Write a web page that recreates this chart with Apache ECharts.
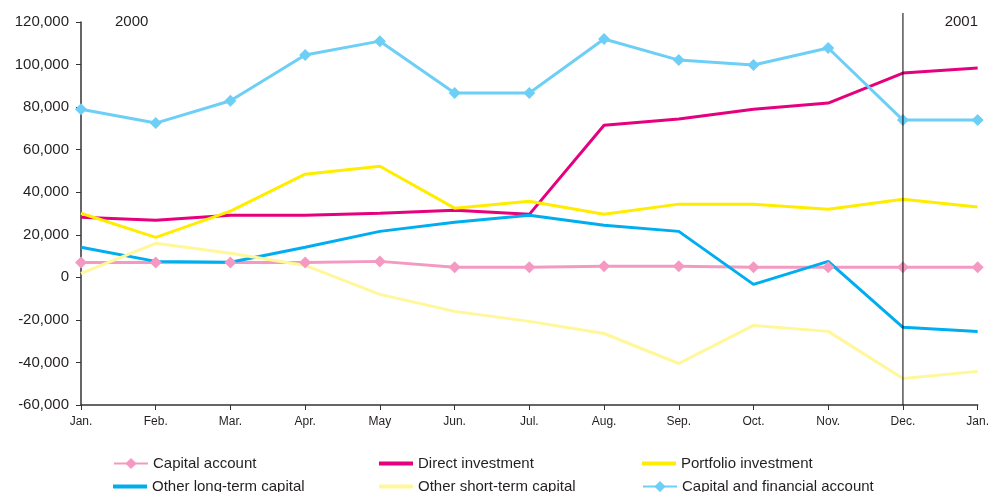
<!DOCTYPE html>
<html>
<head>
<meta charset="utf-8">
<script src="https://cdn.jsdelivr.net/npm/echarts@6/dist/echarts.min.js"></script>
<style>
  html, body { margin: 0; padding: 0; background: #fff; }
  #chart { width: 992px; height: 492px; }
</style>
</head>
<body>
<div id="chart"></div>
<script>
// Monthly capital flows, Jan. 2000 – Jan. 2001
const months = ['Jan.', 'Feb.', 'Mar.', 'Apr.', 'May', 'Jun.', 'Jul.', 'Aug.', 'Sep.', 'Oct.', 'Nov.', 'Dec.', 'Jan.'];

const capitalAccount     = [7000, 7000, 7000, 7000, 7500, 4700, 4700, 5200, 5200, 4700, 4700, 4700, 4700];
const directInvestment   = [28200, 26800, 29200, 29200, 30100, 31500, 29600, 71500, 74400, 79000, 81900, 96000, 98400];
const portfolioInvest    = [30100, 18800, 31100, 48500, 52200, 32500, 35800, 29600, 34400, 34400, 32000, 36700, 33000];
const otherLongTerm      = [14100, 7500, 7100, 14100, 21600, 25900, 29200, 24500, 21600, -3300, 7500, -23500, -25400];
const otherShortTerm     = [1900, 16000, 11300, 5600, -8000, -16000, -20700, -26400, -40500, -22600, -25400, -47500, -44200];
const capitalFinancial   = [79000, 72500, 83000, 104500, 111000, 86600, 86600, 112000, 102100, 99800, 107800, 73900, 73900];

const yTicks = { min: -60000, max: 120000, interval: 20000 };
const yearDividerIndex = 11;          // Dec. 2000 / Jan. 2001 boundary
const yearLabels = ['2000', '2001'];

const font = 'Liberation Sans, Arial, Helvetica, sans-serif';
const textColor = '#231f20';

const seriesDefs = [
  { name: 'Capital account',              data: capitalAccount,   color: '#f49ac2', markers: true },
  { name: 'Direct investment',            data: directInvestment, color: '#e6007e', markers: false },
  { name: 'Portfolio investment',         data: portfolioInvest,  color: '#ffed00', markers: false },
  { name: 'Other long-term capital',      data: otherLongTerm,    color: '#00aeef', markers: false },
  { name: 'Other short-term capital',     data: otherShortTerm,   color: '#fff799', markers: false },
  { name: 'Capital and financial account',data: capitalFinancial, color: '#6dcff6', markers: true }
];

const series = seriesDefs.map(d => ({
  name: d.name,
  type: 'line',
  data: d.data,
  symbol: d.markers ? 'diamond' : 'none',
  symbolSize: 12,
  showSymbol: d.markers,
  lineStyle: { color: d.color, width: 3 },
  itemStyle: { color: d.color },
  emphasis: { disabled: true },
  z: 3
}));

// legend laid out in three columns, two rows
const legendCols = [108, 374, 637];
const legendRows = [451, 474];
const legendOrder = [
  'Capital account', 'Direct investment', 'Portfolio investment',
  'Other long-term capital', 'Other short-term capital', 'Capital and financial account'
];
const legends = legendOrder.map((name, i) => {
  const def = seriesDefs.find(d => d.name === name);
  const col = i % 3, row = Math.floor(i / 3);
  return {
    left: legendCols[col],
    top: legendRows[row],
    itemWidth: 34,
    itemHeight: def.markers ? 14 : 4,
    icon: def.markers ? undefined : 'rect',
    selectedMode: false,
    textStyle: { fontFamily: font, fontSize: 15, color: textColor },
    data: [name]
  };
});

const chart = echarts.init(document.getElementById('chart'), null, { renderer: 'canvas' });
chart.setOption({
  animation: false,
  backgroundColor: '#ffffff',
  grid: { left: 81, right: 12, top: 22, bottom: 87, containLabel: false },
  xAxis: {
    type: 'category',
    data: months.map((m, i) => m + '_' + i),
    boundaryGap: false,
    axisLine: { onZero: false, lineStyle: { color: '#333', width: 1.5 } },
    axisTick: { show: true, length: 5, alignWithLabel: true, lineStyle: { color: '#333' } },
    axisLabel: {
      fontFamily: font, fontSize: 12, color: textColor, margin: 11,
      interval: 0,
      formatter: (v) => v.split('_')[0]
    },
    splitLine: { show: false }
  },
  yAxis: {
    type: 'value',
    min: yTicks.min,
    max: yTicks.max,
    interval: yTicks.interval,
    axisLine: { show: true, lineStyle: { color: '#333', width: 1.5 } },
    axisTick: { show: true, length: 5, lineStyle: { color: '#333' } },
    axisLabel: {
      fontFamily: font, fontSize: 15, color: textColor, margin: 12,
      formatter: (v) => v.toLocaleString('en-US')
    },
    splitLine: { show: false }
  },
  legend: legends,
  series: series
});

// year divider and year captions, positioned through the axes
const divX = chart.convertToPixel({ xAxisIndex: 0 }, yearDividerIndex);
const axisBottom = chart.convertToPixel({ yAxisIndex: 0 }, yTicks.min);
chart.setOption({
  graphic: [
    { type: 'line', shape: { x1: divX, y1: 13, x2: divX, y2: axisBottom },
      style: { stroke: '#000', lineWidth: 1 }, z: 10, silent: true },
    { type: 'text', left: 115, top: 14, style: { text: yearLabels[0], font: '15px ' + font, fill: textColor } },
    { type: 'text', right: 14, top: 14, style: { text: yearLabels[1], font: '15px ' + font, fill: textColor } }
  ]
});
</script>
</body>
</html>
